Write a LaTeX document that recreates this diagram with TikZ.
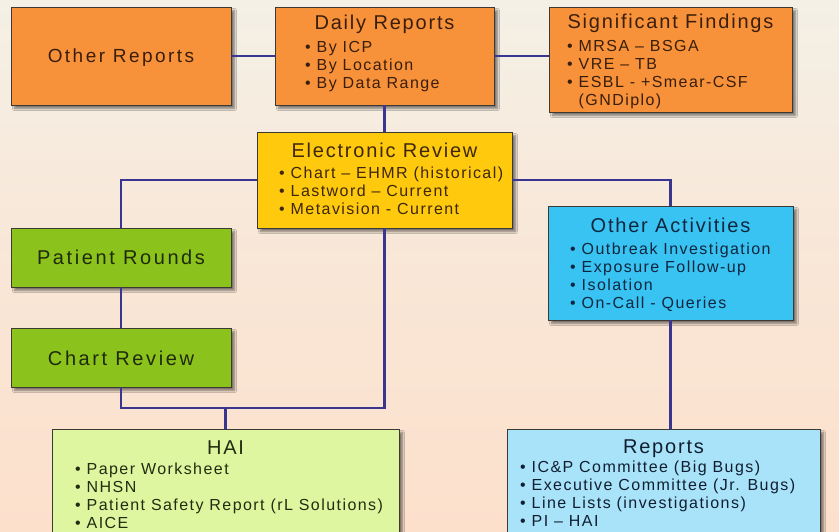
\documentclass[tikz,border=0pt]{standalone}
\usepackage{fontspec}
\setmainfont{Liberation Sans}
\newfontfamily\lsfont[LetterSpace=9]{Liberation Sans}
\newfontfamily\lswide[LetterSpace=13]{Liberation Sans}
\usetikzlibrary{shadows.blur}
\definecolor{bgtop}{HTML}{F4F0E6}
\definecolor{bgbot}{HTML}{FCE0CC}
\definecolor{orng}{HTML}{F7923A}
\definecolor{orngtx}{HTML}{3A1E0C}
\definecolor{yel}{HTML}{FFC90E}
\definecolor{yeltx}{HTML}{3E270A}
\definecolor{grn}{HTML}{8CC21C}
\definecolor{grntx}{HTML}{1E2A0A}
\definecolor{lime}{HTML}{DFF6A0}
\definecolor{limetx}{HTML}{222C10}
\definecolor{cyn}{HTML}{38C3F2}
\definecolor{cyntx}{HTML}{10263E}
\definecolor{lblu}{HTML}{A9E3FA}
\definecolor{lblutx}{HTML}{101E30}
\definecolor{conn}{HTML}{3A3690}
\definecolor{bord}{HTML}{3D3A35}
\tikzset{
  box/.style={draw=bord, line width=0.9pt, inner sep=0pt, rectangle,
    blur shadow={shadow xshift=3.5pt, shadow yshift=-3.5pt, shadow blur steps=6, shadow opacity=50}},
  ttl/.style={inner sep=0pt, font=\lsfont\fontsize{20}{22}\selectfont, anchor=base},
  lst/.style={inner sep=0pt, align=left, anchor=north west, font=\lsfont\fontsize{16}{18.2}\selectfont},
  big/.style={inner sep=0pt, font=\lswide\fontsize{20}{22}\selectfont, anchor=base},
  wire/.style={draw=conn, line width=2.4pt}
}
\begin{document}
\begin{tikzpicture}[x=1pt,y=-1pt]
\useasboundingbox (0,0) rectangle (839,532);
\clip (0,0) rectangle (839,532);
\shade[top color=bgtop, bottom color=bgbot, middle color=bgbot!60!bgtop] (0,0) rectangle (839,532);

% boxes
\node[box, fill=orng, minimum width=220pt, minimum height=98pt] (or) at (121,56) {};
\node[box, fill=orng, minimum width=219pt, minimum height=98pt] (dr) at (384.5,56) {};
\node[box, fill=orng, minimum width=243pt, minimum height=105pt] (sf) at (670.5,59.5) {};
\node[box, fill=yel, minimum width=255pt, minimum height=96pt] (er) at (384.5,180) {};
\node[box, fill=grn, minimum width=220pt, minimum height=59pt] (pr) at (121,257.5) {};
\node[box, fill=grn, minimum width=220pt, minimum height=59pt] (cr) at (121,357.5) {};
\node[box, fill=cyn, minimum width=245pt, minimum height=114pt] (oa) at (670.5,263) {};
\node[box, fill=lime, minimum width=347pt, minimum height=140pt] (hai) at (225.5,499) {};
\node[box, fill=lblu, minimum width=313pt, minimum height=140pt] (rp) at (663.5,499) {};

% connectors
\coordinate (jn) at (225.5,408);
\draw[wire] (or.east) -- (or.east -| dr.west);
\draw[wire] (dr.east) -- (dr.east -| sf.west);
\draw[wire] (dr.south) -- (er.north);
\draw[wire] (er.west) -| (pr.north);
\draw[wire] (er.east) -| (oa.north);
\draw[wire] (pr.south) -- (cr.north);
\draw[wire] (cr.south) |- (jn) -| (er.south);
\draw[wire] (jn) -- (hai.north);
\draw[wire] (oa.south) -- (oa.south |- rp.north);

% texts
\node[big, text=orngtx, font=\lswide\fontsize{19}{22}\selectfont] (or-t) at (121,63) {Other Reports};

\node[ttl, text=orngtx] (dr-t) at (384.5,30) {Daily Reports};
\node[lst, text=orngtx] (dr-l) at (305,39.3) {\strut• By ICP\\• By Location\\• By Data Range};

\node[ttl, text=orngtx] (sf-t) at (670.5,29) {Significant Findings};
\node[lst, text=orngtx] (sf-l) at (567,38.3) {\strut• MRSA – BSGA\\• VRE – TB\\• ESBL - +Smear-CSF\\\hphantom{• }(GNDiplo)};

\node[ttl, text=yeltx] (er-t) at (384.5,158) {Electronic Review};
\node[lst, text=yeltx] (er-l) at (279,165.3) {\strut• Chart – EHMR (historical)\\• Lastword – Current\\• Metavision - Current};

\node[big, text=grntx] (pr-t) at (121,265) {Patient Rounds};
\node[big, text=grntx] (cr-t) at (121,365) {Chart Review};

\node[ttl, text=cyntx] (oa-t) at (670.5,233) {Other Activities};
\node[lst, text=cyntx] (oa-l) at (570,241.3) {\strut• Outbreak Investigation\\• Exposure Follow-up\\• Isolation\\• On-Call - Queries};

\node[ttl, text=limetx] (hai-t) at (225.5,454) {HAI};
\node[lst, text=limetx] (hai-l) at (75,461.3) {\strut• Paper Worksheet\\• NHSN\\• Patient Safety Report (rL Solutions)\\• AICE};

\node[ttl, text=lblutx] (rp-t) at (663.5,453) {Reports};
\node[lst, text=lblutx] (rp-l) at (520,459.3) {\strut• IC\&P Committee (Big Bugs)\\• Executive Committee (Jr. Bugs)\\• Line Lists (investigations)\\• PI – HAI};
\end{tikzpicture}
\end{document}
